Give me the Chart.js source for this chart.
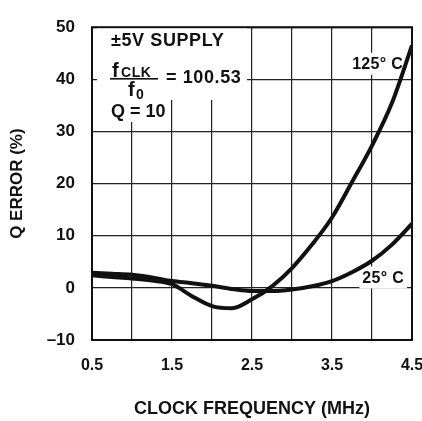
<!DOCTYPE html>
<html>
<head>
<meta charset="utf-8">
<script src="https://cdn.jsdelivr.net/npm/chart.js@4/dist/chart.umd.min.js"></script>
<style>
  html, body { margin: 0; padding: 0; background: #fff; }
  #wrap { width: 422px; height: 421px; }
</style>
</head>
<body>
<div id="wrap"><canvas id="qChart" width="422" height="421"></canvas></div>
<script>
// clock frequency (MHz)
const freqs = [0.5, 0.75, 1.0, 1.25, 1.5, 1.75, 2.0, 2.25, 2.5, 2.75, 3.0, 3.25, 3.5, 3.75, 4.0, 4.25, 4.5];
// Q error (%)
const err125 = [2.4, 2.1, 1.8, 1.4, 0.7, -1.6, -3.5, -3.9, -2.2, 0.3, 3.8, 8.3, 13.5, 20.3, 27.3, 35.5, 46.5];
const err25 = [2.9, 2.7, 2.5, 2.0, 1.3, 0.9, 0.4, -0.2, -0.6, -0.6, -0.3, 0.3, 1.3, 3.0, 5.2, 8.3, 12.3];
const xLabels = [0.5, 1.5, 2.5, 3.5, 4.5];
const yTicks = [-10, 0, 10, 20, 30, 40, 50];

const FONT = 'Liberation Sans, Arial, Helvetica, sans-serif';

function toPoints(ys) {
    return freqs.map((f, i) => ({ x: f, y: ys[i] }));
}

const annotations = {
    id: 'annotations',
    beforeDatasetsDraw(chart) {
        const ctx = chart.ctx;
        const xs = chart.scales.x;
        const ys = chart.scales.y;
        ctx.save();
        // white patches behind the note text
        ctx.fillStyle = '#fff';
        ctx.fillRect(97, 25, 150, 75);
        ctx.fillRect(97, 100, 68, 22);

        ctx.fillStyle = '#111';
        ctx.textBaseline = 'alphabetic';
        ctx.textAlign = 'left';
        ctx.letterSpacing = '0.6px';
        ctx.font = 'bold 18px ' + FONT;
        ctx.fillText('\u00b15V SUPPLY', 111, 46);

        // fCLK / f0 fraction
        ctx.font = 'bold 20px ' + FONT;
        ctx.fillText('f', 112, 77);
        ctx.font = 'bold 14px ' + FONT;
        ctx.fillText('CLK', 121, 77);
        ctx.fillRect(110, 78, 48, 1.6);
        ctx.font = 'bold 20px ' + FONT;
        ctx.fillText('f', 128, 96);
        ctx.font = 'bold 14px ' + FONT;
        ctx.fillText('0', 136, 99);
        ctx.font = 'bold 18px ' + FONT;
        ctx.fillText('= 100.53', 166, 83);
        ctx.letterSpacing = '0px';
        ctx.fillText('Q = 10', 111, 117);

        // curve labels, placed by data position
        ctx.font = 'bold 16px ' + FONT;
        ctx.letterSpacing = '0.3px';
        ctx.textAlign = 'center';
        ctx.textBaseline = 'middle';
        const labels = [
            { text: '125\u00b0 C', x: 4.07, y: 43 },
            { text: '25\u00b0 C', x: 4.14, y: 2 }
        ];
        labels.forEach(l => {
            const px = xs.getPixelForValue(l.x);
            const py = ys.getPixelForValue(l.y);
            const w = ctx.measureText(l.text).width;
            ctx.fillStyle = '#fff';
            ctx.fillRect(px - w / 2 - 3, py - 11, w + 6, 22);
            ctx.fillStyle = '#111';
            ctx.fillText(l.text, px, py + 1);
        });
        ctx.restore();
    },
    afterDraw(chart) {
        const a = chart.chartArea;
        const ctx = chart.ctx;
        ctx.save();
        ctx.strokeStyle = '#111';
        ctx.lineWidth = 2;
        ctx.strokeRect(a.left, a.top, a.right - a.left, a.bottom - a.top);
        ctx.restore();
    }
};

function initChart() {
    const ctx = document.getElementById('qChart').getContext('2d');
    new Chart(ctx, {
        type: 'line',
        data: {
            datasets: [
                {
                    label: '125\u00b0C',
                    data: toPoints(err125),
                    borderColor: '#111',
                    borderWidth: 4,
                    pointRadius: 0,
                    cubicInterpolationMode: 'monotone'
                },
                {
                    label: '25\u00b0C',
                    data: toPoints(err25),
                    borderColor: '#111',
                    borderWidth: 4,
                    pointRadius: 0,
                    cubicInterpolationMode: 'monotone'
                }
            ]
        },
        options: {
            responsive: false,
            animation: false,
            layout: { padding: { left: 0, right: 10, top: 18, bottom: 0 } },
            plugins: {
                legend: { display: false },
                tooltip: { enabled: false }
            },
            scales: {
                x: {
                    type: 'linear',
                    min: 0.5,
                    max: 4.5,
                    ticks: {
                        stepSize: 0.5,
                        autoSkip: false,
                        maxRotation: 0,
                        padding: 16,
                        color: '#111',
                        font: { family: FONT, size: 16, weight: 'bold' },
                        callback: v => xLabels.includes(v) ? v.toFixed(1) : ''
                    },
                    grid: { color: '#222', lineWidth: 1.2, drawTicks: false },
                    border: { display: false },
                    title: {
                        display: true,
                        text: 'CLOCK FREQUENCY (MHz)',
                        color: '#111',
                        font: { family: FONT, size: 18, weight: 'bold' },
                        padding: { top: 0, bottom: 1 }
                    },
                    afterFit(scale) {
                        scale.height = 81;
                        scale.paddingLeft = 0;
                        scale.paddingRight = 0;
                    }
                },
                y: {
                    min: -10,
                    max: 50,
                    afterBuildTicks(scale) {
                        scale.ticks = yTicks.map(v => ({ value: v }));
                    },
                    ticks: {
                        padding: 17,
                        color: '#111',
                        font: { family: FONT, size: 17, weight: 'bold' },
                        callback: v => v < 0 ? '\u2013' + Math.abs(v) : String(v)
                    },
                    grid: { color: '#222', lineWidth: 1.2, drawTicks: false },
                    border: { display: false },
                    title: {
                        display: true,
                        text: 'Q ERROR (%)',
                        color: '#111',
                        font: { family: FONT, size: 17, weight: 'bold' },
                        padding: { top: 7, bottom: 0 }
                    },
                    afterFit(scale) {
                        scale.width = 92;
                    }
                }
            }
        },
        plugins: [annotations]
    });
}

document.addEventListener('DOMContentLoaded', initChart);
</script>
</body>
</html>
